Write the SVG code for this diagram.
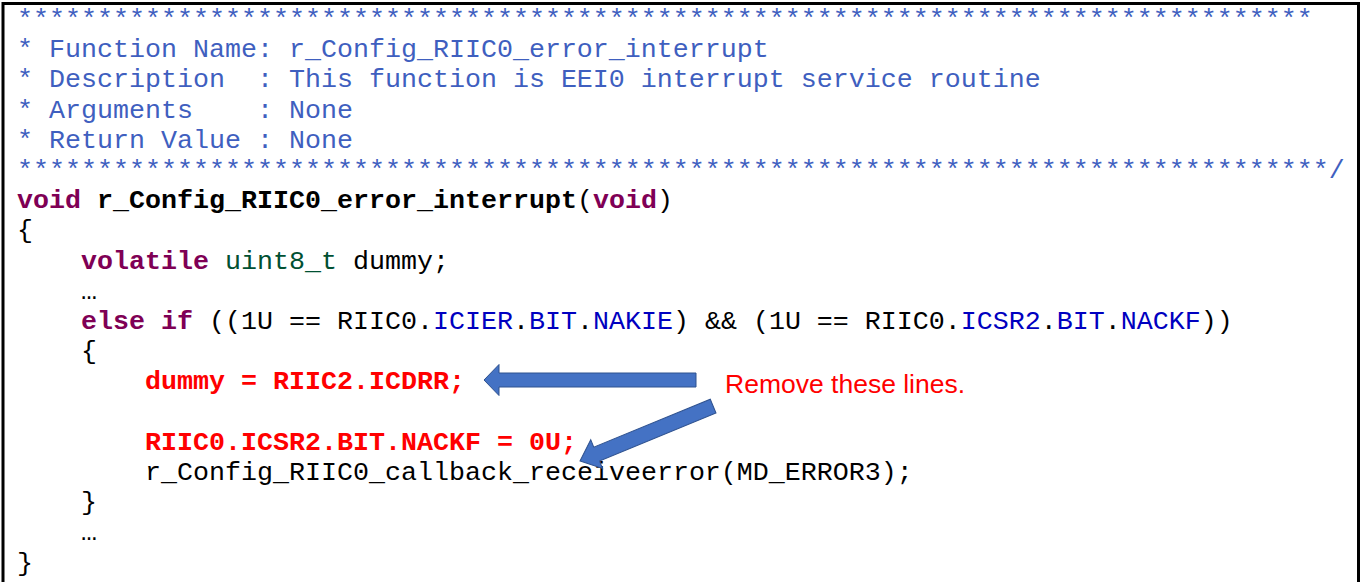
<svg xmlns="http://www.w3.org/2000/svg" width="1362" height="582" viewBox="0 0 1362 582">
<style>
  .code { font-family: "Liberation Mono", "Courier New", monospace; font-size: 26.67px; fill: #000000; }
  .cm { fill: #3F5FBF; }
  .kw { fill: #7F0055; font-weight: bold; }
  .ty { fill: #005032; }
  .fd { fill: #0000C0; }
  .b { font-weight: bold; }
  .rd { fill: #FF0000; font-weight: bold; }
  .note { font-family: "Liberation Sans", Arial, sans-serif; font-size: 26.5px; fill: #FF0000; }
  .arrow { fill: #4472C4; stroke: #2F528F; stroke-width: 1; }
</style>
<rect x="0" y="0" width="1362" height="582" fill="#ffffff"/>
<path d="M3,582 V3.5 H1358.5 V582" fill="none" stroke="#000000" stroke-width="3"/>
<g id="code">
  <text class="code cm" x="17" y="27" xml:space="preserve">*********************************************************************************</text>
  <text class="code cm" x="17" y="57.2" xml:space="preserve">* Function Name: r_Config_RIIC0_error_interrupt</text>
  <text class="code cm" x="17" y="87.4" xml:space="preserve">* Description  : This function is EEI0 interrupt service routine</text>
  <text class="code cm" x="17" y="117.6" xml:space="preserve">* Arguments    : None</text>
  <text class="code cm" x="17" y="147.8" xml:space="preserve">* Return Value : None</text>
  <text class="code cm" x="17" y="178" xml:space="preserve">**********************************************************************************/</text>
  <text class="code" x="17" y="208.2" xml:space="preserve"><tspan class="kw">void</tspan> <tspan class="b">r_Config_RIIC0_error_interrupt</tspan>(<tspan class="kw">void</tspan>)</text>
  <text class="code" x="17" y="238.4" xml:space="preserve">{</text>
  <text class="code" x="81" y="268.6" xml:space="preserve"><tspan class="kw">volatile</tspan> <tspan class="ty">uint8_t</tspan> dummy;</text>
  <text class="code" x="81" y="298.8" xml:space="preserve">…</text>
  <text class="code" x="81" y="329" xml:space="preserve"><tspan class="kw">else if</tspan> ((1U == RIIC0.<tspan class="fd">ICIER</tspan>.<tspan class="fd">BIT</tspan>.<tspan class="fd">NAKIE</tspan>) &amp;&amp; (1U == RIIC0.<tspan class="fd">ICSR2</tspan>.<tspan class="fd">BIT</tspan>.<tspan class="fd">NACKF</tspan>))</text>
  <text class="code" x="81" y="359.2" xml:space="preserve">{</text>
  <text class="code rd" x="145" y="389.4" xml:space="preserve">dummy = RIIC2.ICDRR;</text>
  <text class="code rd" x="145" y="449.8" xml:space="preserve">RIIC0.ICSR2.BIT.NACKF = 0U;</text>
  <text class="code" x="145" y="480" xml:space="preserve">r_Config_RIIC0_callback_receiveerror(MD_ERROR3);</text>
  <text class="code" x="81" y="510.2" xml:space="preserve">}</text>
  <text class="code" x="81" y="540.4" xml:space="preserve">…</text>
  <text class="code" x="17" y="570.6" xml:space="preserve">}</text>
</g>
<g id="note">
  <text class="note" x="725" y="393">Remove these lines.</text>
</g>
<g id="connectors">
  <polygon class="arrow" points="484,380 499,364.5 499,373 696,373 696,387 499,387 499,395.5"/>
  <polygon class="arrow" transform="translate(580,461) rotate(-22.4)" points="0,0 18,-15.5 18,-7.5 144,-7.5 144,7.5 18,7.5 18,15.5"/>
</g>
</svg>
